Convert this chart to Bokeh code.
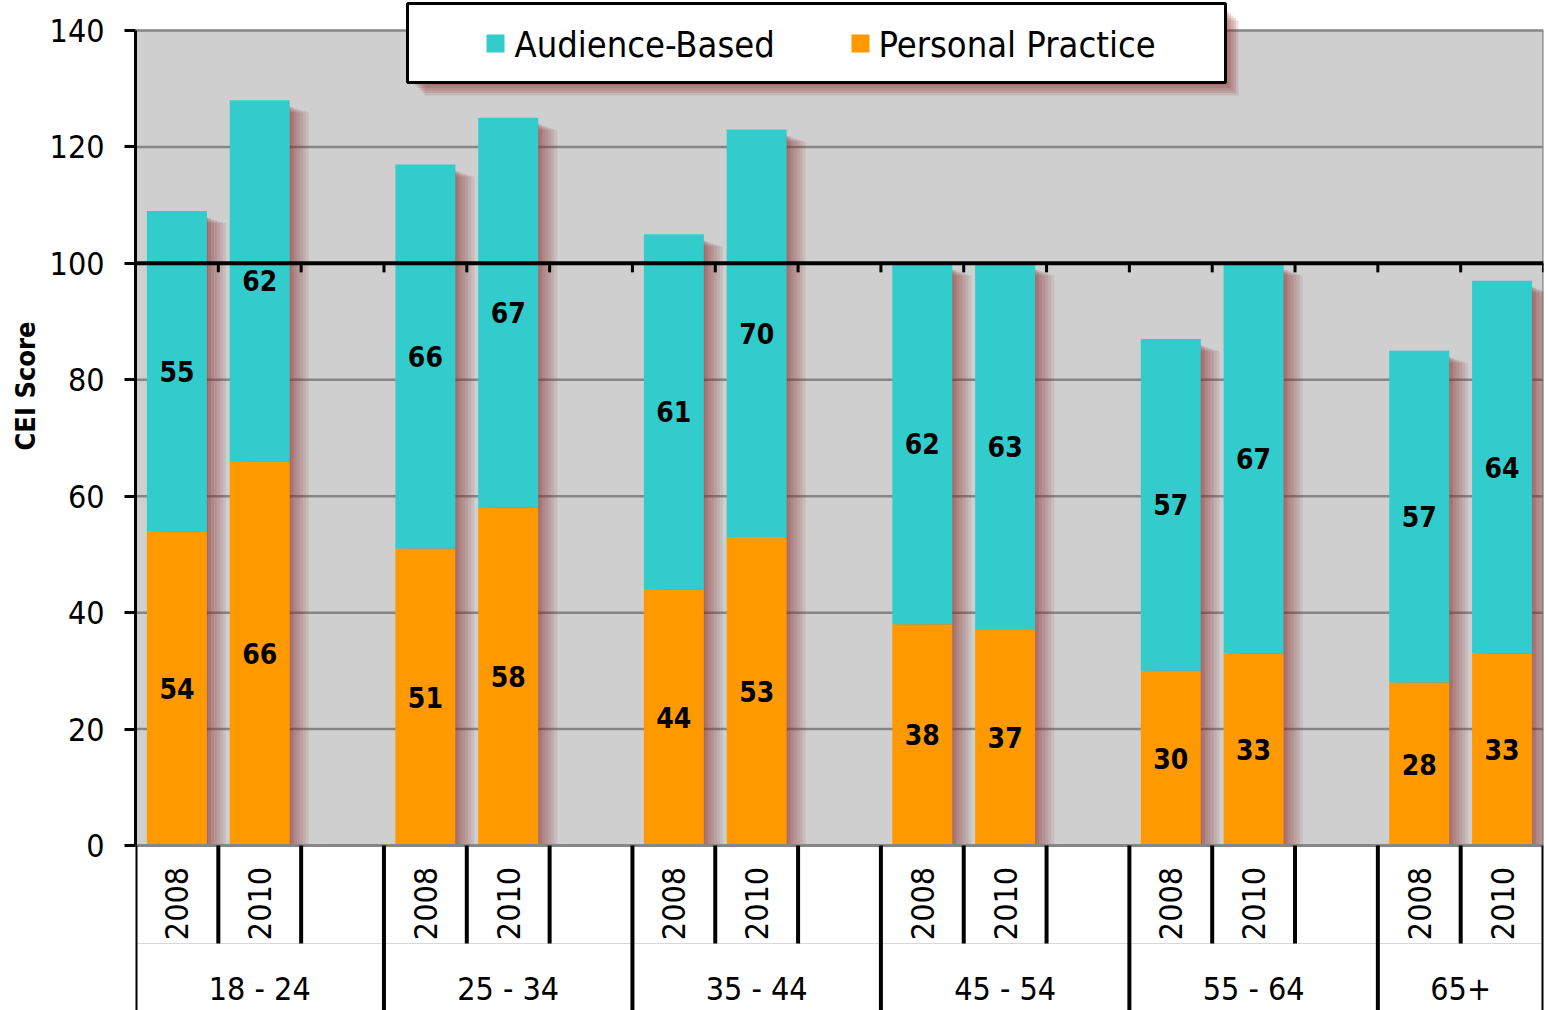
import math
from bokeh.plotting import figure
from bokeh.models import ColumnDataSource, Range1d, FixedTicker, Title
from bokeh.core.properties import value
from bokeh.embed import file_html
from bokeh.resources import INLINE

# ---------------- data ----------------
groups = ["18 - 24", "25 - 34", "35 - 44", "45 - 54", "55 - 64", "65+"]
years = ["2008", "2010"]
personal = [54, 66, 51, 58, 44, 53, 38, 37, 30, 33, 28, 33]   # Personal Practice (bottom)
audience = [55, 62, 66, 67, 61, 70, 62, 63, 57, 67, 57, 64]   # Audience-Based (top)
y_ticks = [0, 20, 40, 60, 80, 100, 120, 140]
series_names = ["Audience-Based", "Personal Practice"]
y_label = "CEI Score"

# ---------------- style / layout ----------------
TEAL = "#33CCCC"
ORANGE = "#FF9900"
BG = "#CFCFCF"
GRID = "#868686"
SHADOW = "#8E2424"
FONT = "DejaVu Sans Condensed"

W, H = 1548, 1010
LEFT, RIGHT = 135, 5
FW = W - LEFT - RIGHT
n_slots = len(groups) * 3 - 1
SLOT = FW / n_slots              # px per slot
PXU = 815.0 / 140.0              # px per value unit
Y_ZERO = 845.0                   # pixel row of value 0
y_end = 140 + 30 / PXU
y_start = -(H - Y_ZERO) / PXU


def xs_(X):
    return (X - LEFT) / SLOT


def ys_(Y):
    return (Y_ZERO - Y) / PXU


BW = 60 / SLOT

xs = [3 * g + k + 0.5 for g in range(len(groups)) for k in range(len(years))]
total = [p_ + a_ for p_, a_ in zip(personal, audience)]
src = ColumnDataSource(dict(
    x=xs,
    personal=personal,
    audience=audience,
    total=total,
    pmid=[v / 2 for v in personal],
    amid=[p_ + a_ / 2 for p_, a_ in zip(personal, audience)],
    ptxt=[str(v) for v in personal],
    atxt=[str(v) for v in audience],
    year=years * len(groups),
))

p = figure(width=W, height=H, output_backend="svg", toolbar_location=None,
           title=None, x_axis_location=None, y_axis_location="left",
           x_range=Range1d(0, n_slots), y_range=Range1d(y_start, y_end),
           min_border_left=LEFT, min_border_right=RIGHT,
           min_border_top=0, min_border_bottom=0)
p.background_fill_color = "white"
p.border_fill_color = "white"
p.outline_line_color = None
p.xgrid.visible = False
p.ygrid.visible = False

# plot area background
p.quad(left=0, right=n_slots, bottom=0, top=140, fill_color=BG, line_color=None)

# gridlines
gl = [t for t in y_ticks[1:] if t != 100]
p.segment(x0=[0] * len(gl), y0=gl, x1=[n_slots] * len(gl), y1=gl,
          line_color=GRID, line_width=2.5)
p.segment(x0=[n_slots], y0=[0], x1=[n_slots], y1=[140], line_color=GRID, line_width=2.5)

# bar shadows (soft, reddish)
for i in range(7):
    off = (1 + 3 * i) / SLOT
    d = (6 + i) / PXU
    p.vbar(x=[x + off for x in xs], width=BW, bottom=0,
           top=[t - d for t in total], fill_color=SHADOW,
           fill_alpha=0.18 if i < 2 else 0.10, line_color=None)

# stacked bars
p.vbar_stack(["personal", "audience"], x="x", width=BW, source=src,
             fill_color=[ORANGE, TEAL], line_color=None)

# black line at 100 with ticks
p.segment(x0=[0], y0=[100], x1=[n_slots], y1=[100], line_color="black", line_width=4)
kb = list(range(n_slots + 1))
p.segment(x0=kb, y0=[100] * len(kb), x1=kb, y1=[100 - 9 / PXU] * len(kb),
          line_color="black", line_width=3)

# category axis area
p.segment(x0=[0], y0=[ys_(943)], x1=[n_slots], y1=[ys_(943)], line_color="#D8D8D8", line_width=1)
p.segment(x0=[0], y0=[0], x1=[n_slots], y1=[0], line_color=GRID, line_width=3)
group_bounds = sorted(set([3 * g for g in range(len(groups))] + [n_slots]))
short_b = [k for k in kb if k not in group_bounds]
p.segment(x0=group_bounds, y0=[0] * len(group_bounds), x1=group_bounds,
          y1=[y_start] * len(group_bounds), line_color="black", line_width=4)
p.segment(x0=short_b, y0=[0] * len(short_b), x1=short_b,
          y1=[ys_(943)] * len(short_b), line_color="black", line_width=4)

p.text(x="x", y=ys_(903), text="year", source=src, angle=math.pi / 2,
       text_align="center", text_baseline="middle", text_font=value(FONT),
       text_font_size="32px", text_color="black")
gx = [(3 * g + min(3 * g + 3, n_slots)) / 2 for g in range(len(groups))]
p.text(x=gx, y=[ys_(988)] * len(gx), text=groups, text_align="center",
       text_baseline="middle", text_font=value(FONT), text_font_size="32px",
       text_color="black")

# data labels
for col, tcol in [("pmid", "ptxt"), ("amid", "atxt")]:
    p.text(x="x", y=col, text=tcol, source=src, text_align="center",
           text_baseline="middle", text_font=value(FONT), text_font_size="28px",
           text_font_style="bold", text_color="black")

# legend (manual, with shadow)
lx0, lx1, ly0, ly1 = 407, 1225, 3, 82
for i in range(5):
    off = 3 + 2.5 * i
    p.quad(left=xs_(lx0 + off + 4), right=xs_(lx1 + off), top=ys_(ly0 + off + 4),
           bottom=ys_(ly1 + off), fill_color=SHADOW, fill_alpha=0.14, line_color=None)
p.quad(left=xs_(lx0), right=xs_(lx1), top=ys_(ly0), bottom=ys_(ly1),
       fill_color="white", line_color="black", line_width=3)
sq_x = [486, 851]
tx_x = [514, 878]
for sx, tx, c, name in zip(sq_x, tx_x, [TEAL, ORANGE], series_names):
    p.quad(left=xs_(sx), right=xs_(sx + 18), top=ys_(34), bottom=ys_(52),
           fill_color=c, line_color=None)
    p.text(x=[xs_(tx)], y=[ys_(44)], text=[name], text_align="left",
           text_baseline="middle", text_font=value(FONT), text_font_size="36px",
           text_color="black")

# y axis
ax = p.yaxis[0]
ax.ticker = FixedTicker(ticks=y_ticks)
ax.bounds = (0, 140)
ax.axis_line_color = "black"
ax.axis_line_width = 3
ax.major_tick_line_color = "black"
ax.major_tick_line_width = 3
ax.major_tick_out = 11
ax.major_tick_in = 0
ax.minor_tick_line_color = None
ax.major_label_text_font = FONT
ax.major_label_text_font_size = "32px"
ax.major_label_text_color = "black"
ax.major_label_standoff = 20

# y axis title in the left border (text starts at pixel row 450)
p.add_layout(Title(text=y_label, align="left", offset=H - 450, standoff=12,
                   text_font=FONT, text_font_style="bold", text_font_size="27px",
                   text_color="black"), "left")

open("out.html", "w").write(file_html(p, INLINE))
